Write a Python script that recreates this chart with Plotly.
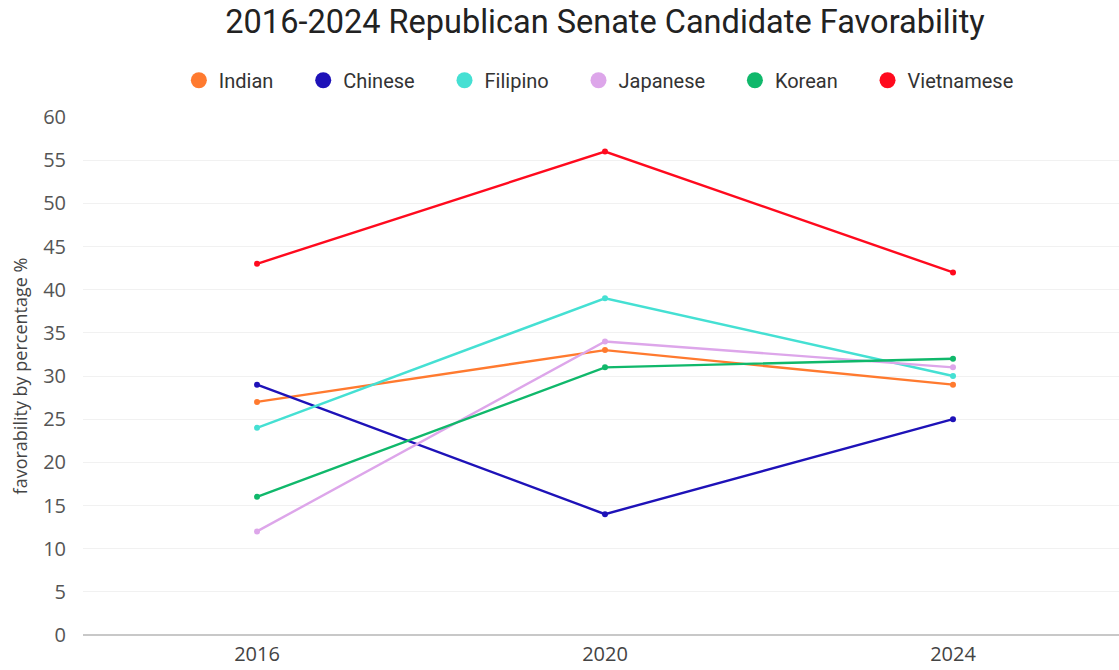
import plotly.graph_objects as go

years = ["2016", "2020", "2024"]
indian = [27, 33, 29]
chinese = [29, 14, 25]
filipino = [24, 39, 30]
japanese = [12, 34, 31]
korean = [16, 31, 32]
vietnamese = [43, 56, 42]

series = [
    ("Indian", indian, "#FF7A2F"),
    ("Chinese", chinese, "#1E12B8"),
    ("Filipino", filipino, "#45E0D3"),
    ("Japanese", japanese, "#DDA6EA"),
    ("Korean", korean, "#10B86B"),
    ("Vietnamese", vietnamese, "#FF0A1E"),
]

fig = go.Figure()
for name, vals, col in series:
    fig.add_trace(go.Scatter(
        x=years, y=vals, mode="lines+markers", name=name,
        line=dict(color=col, width=2.4),
        marker=dict(color=col, size=6),
        showlegend=False,
    ))
for name, vals, col in series:
    fig.add_trace(go.Scatter(
        x=[None], y=[None], mode="markers", name=name + "\u00a0" * 5,
        marker=dict(color=col, size=17),
        showlegend=True,
    ))

fig.update_layout(
    width=1119, height=670,
    paper_bgcolor="white", plot_bgcolor="white",
    margin=dict(l=83, r=0, t=117, b=35),
    title=dict(text="2016-2024 Republican Senate Candidate Favorability",
               x=605 / 1119, xanchor="center", y=1 - 22 / 670, yanchor="middle",
               font=dict(family="Roboto", size=32.5, color="#222222")),
    legend=dict(orientation="h", x=0.51, xanchor="center", y=1.071, yanchor="middle",
                font=dict(family="Roboto", size=20, color="#333333"),
                itemwidth=30, tracegroupgap=0),
    xaxis=dict(type="category", range=[-0.5, 2.477], showgrid=False,
               showline=False, zeroline=False,
               tickfont=dict(family="Open Sans", size=20, color="#444444"),
               ticks="", ticklabelstandoff=5),
    yaxis=dict(range=[0, 60], dtick=5, showgrid=True, gridcolor="#f1f1f1",
               gridwidth=1, zeroline=True, zerolinecolor="#c8c8c8", zerolinewidth=1.5,
               tickfont=dict(family="Open Sans", size=20, color="#555555"),
               ticks="", ticklabelstandoff=16,
               title=dict(text="favorability by percentage %",
                          font=dict(family="Open Sans", size=18, color="#444444"),
                          standoff=10)),
)

fig.write_html("out.html")
